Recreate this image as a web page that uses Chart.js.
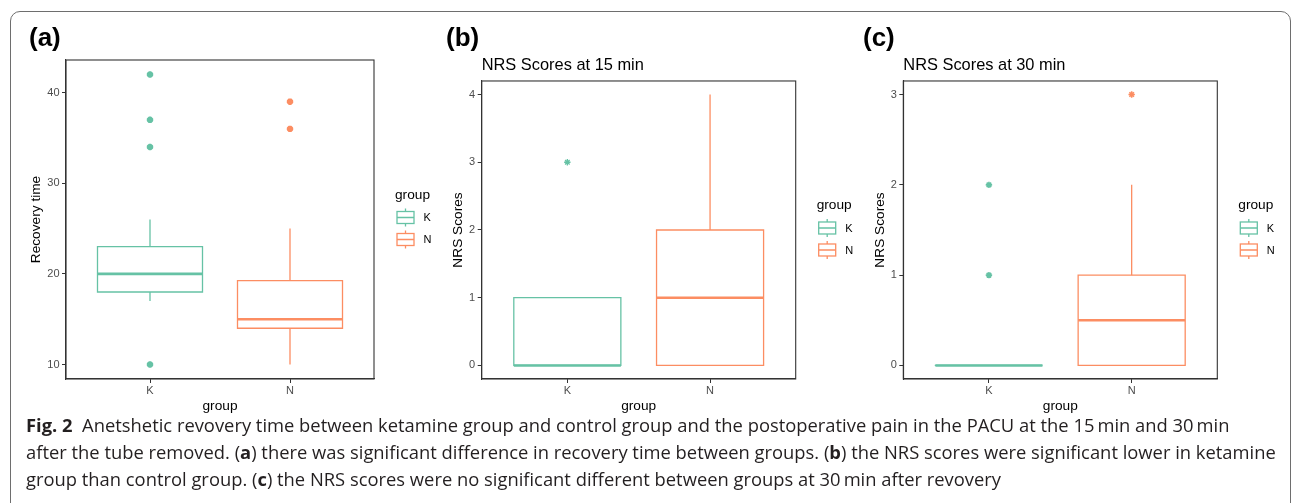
<!DOCTYPE html>
<html>
<head>
<meta charset="utf-8">
<script src="https://cdn.jsdelivr.net/npm/chart.js@4.4.1/dist/chart.umd.min.js"></script>
<style>
  html, body { margin: 0; padding: 0; background: #fff; width: 1293px; height: 503px; overflow: hidden; }
  #frame { position: absolute; left: 10px; top: 11px; width: 1281px; height: 620px; box-sizing: border-box;
           border: 1.5px solid #6e6e6e; border-radius: 10px; }
  canvas { position: absolute; top: 0; }
  .plab { position: absolute; font: bold 26px "Liberation Sans", Arial, sans-serif; line-height: 26px; color: #000; }
  #caption { position: absolute; left: 26px; top: 411px; font-family: "Open Sans", "Noto Sans", sans-serif; color: #231f20; }
  .cl { white-space: nowrap; height: 27px; line-height: 27px; }
  .cl b { font-weight: 700; }
</style>
</head>
<body>
<div id="frame"></div>
<canvas id="ca" width="440" height="418" style="left:0px"></canvas>
<canvas id="cb" width="420" height="418" style="left:440px"></canvas>
<canvas id="cc" width="433" height="418" style="left:860px"></canvas>
<div class="plab" style="left:29px;top:24px">(a)</div>
<div class="plab" style="left:446px;top:24px">(b)</div>
<div class="plab" style="left:863px;top:24px">(c)</div>
<div id="caption">
  <div class="cl"><b>Fig. 2</b>&nbsp; Anetshetic revovery time between ketamine group and control group and the postoperative pain in the PACU at the 15&#8201;min and 30&#8201;min</div>
  <div class="cl">after the tube removed. (<b>a</b>) there was significant difference in recovery time between groups. (<b>b</b>) the NRS scores were significant lower in ketamine</div>
  <div class="cl">group than control group. (<b>c</b>) the NRS scores were no significant different between groups at 30&#8201;min after revovery</div>
</div>
<script>
// ---------------- data ----------------
const groups = ['K', 'N'];

// (a) Recovery time
const recQ1 = [18, 14];
const recMedian = [20, 15];
const recQ3 = [23, 19.25];
const recWhiskerLow = [17, 10];
const recWhiskerHigh = [26, 25];
const recOutliersK = [42, 37, 34, 10];
const recOutliersN = [39, 36];
const recTicks = [10, 20, 30, 40];

// (b) NRS Scores at 15 min
const nrs15Q1 = [0, 0];
const nrs15Median = [0, 1];
const nrs15Q3 = [1, 2];
const nrs15WhiskerLow = [0, 0];
const nrs15WhiskerHigh = [1, 4];
const nrs15OutliersK = [3];
const nrs15OutliersN = [];
const nrs15Ticks = [0, 1, 2, 3, 4];

// (c) NRS Scores at 30 min
const nrs30Q1 = [0, 0];
const nrs30Median = [0, 0.5];
const nrs30Q3 = [0, 1];
const nrs30WhiskerLow = [0, 0];
const nrs30WhiskerHigh = [0, 2];
const nrs30OutliersK = [1, 2];
const nrs30OutliersN = [3];
const nrs30Ticks = [0, 1, 2, 3];

const groupColors = ['#66C2A5', '#FC8D62'];

// ---------------- helpers ----------------
const FONT = '"Liberation Sans", Arial, sans-serif';
const HALF = 0.375;

function boxDatasets(s, outlierWidth) {
  const ds = [];
  groups.forEach((g, i) => {
    const x = i + 1, c = groupColors[i];
    const line = { showLine: true, pointRadius: 0, borderColor: c, borderWidth: 1.3, fill: false, borderCapStyle: 'butt', borderJoinStyle: 'miter' };
    ds.push(Object.assign({ label: g + ' upper whisker', data: [{ x, y: s.q3[i] }, { x, y: s.hi[i] }] }, line));
    ds.push(Object.assign({ label: g + ' lower whisker', data: [{ x, y: s.q1[i] }, { x, y: s.lo[i] }] }, line));
    ds.push(Object.assign({ label: g + ' box', data: [
      { x: x - HALF, y: s.q1[i] }, { x: x + HALF, y: s.q1[i] }, { x: x + HALF, y: s.q3[i] },
      { x: x - HALF, y: s.q3[i] }, { x: x - HALF, y: s.q1[i] }] }, line, { borderCapStyle: 'square' }));
    ds.push(Object.assign({ label: g + ' median', data: [{ x: x - HALF, y: s.med[i] }, { x: x + HALF, y: s.med[i] }] }, line, { borderWidth: 2.6 }));
    ds.push({ label: g + ' outliers', data: s.out[i].map(v => ({ x, y: v })), showLine: false,
      pointStyle: 'star', pointRadius: 3.2, pointBorderWidth: outlierWidth, pointBorderColor: c, pointBackgroundColor: c });
  });
  return ds;
}

function yRange(s) {
  const all = [].concat(s.lo, s.hi, s.out[0], s.out[1]);
  const mn = Math.min(...all), mx = Math.max(...all), e = (mx - mn) * 0.05;
  return [mn - e, mx + e];
}

const frameBorder = {
  id: 'frameBorder',
  afterDraw(chart) {
    const { ctx, chartArea: a } = chart;
    ctx.save();
    ctx.strokeStyle = '#333333';
    ctx.lineWidth = 1.1;
    ctx.strokeRect(a.left, a.top, a.right - a.left, a.bottom - a.top);
    ctx.restore();
  }
};

const ggLegend = {
  id: 'ggLegend',
  afterDraw(chart) {
    const { ctx, chartArea: a } = chart;
    const R = a.right, C = (a.top + a.bottom) / 2;
    ctx.save();
    ctx.textBaseline = 'middle';
    ctx.textAlign = 'left';
    ctx.fillStyle = '#000';
    ctx.font = '13.7px ' + FONT;
    ctx.fillText('group', R + 21, C - 24.5);
    ctx.font = '11px ' + FONT;
    groups.forEach((g, i) => {
      const cy = C - 2 + i * 22, x0 = R + 23, w = 17;
      ctx.strokeStyle = groupColors[i];
      ctx.lineWidth = 1.3;
      ctx.strokeRect(x0, cy - 6, w, 12);
      ctx.beginPath();
      ctx.moveTo(x0, cy); ctx.lineTo(x0 + w, cy);
      ctx.moveTo(x0 + w / 2, cy - 6); ctx.lineTo(x0 + w / 2, cy - 9);
      ctx.moveTo(x0 + w / 2, cy + 6); ctx.lineTo(x0 + w / 2, cy + 9);
      ctx.stroke();
      ctx.fillStyle = '#000';
      ctx.fillText(g, R + 49.5, cy + 0.5);
    });
    ctx.restore();
  }
};

function makeChart(id, s, cfg) {
  const [ymin, ymax] = yRange(s);
  return new Chart(document.getElementById(id), {
    type: 'scatter',
    data: { datasets: boxDatasets(s, cfg.outlierWidth) },
    plugins: [frameBorder, ggLegend],
    options: {
      responsive: false, animation: false, devicePixelRatio: 1,
      layout: { padding: { left: cfg.padLeft, top: cfg.padTop, right: cfg.padRight, bottom: 0 } },
      plugins: {
        legend: { display: false },
        tooltip: { enabled: false },
        title: {
          display: !!cfg.title, text: cfg.title || '', align: 'start', fullSize: false, color: '#000',
          font: { family: FONT, size: 16.4, weight: 'normal', lineHeight: 1.2 },
          padding: { top: 0, bottom: cfg.titleGap || 0 }
        }
      },
      scales: {
        x: {
          type: 'linear', min: 0.4, max: 2.6, offset: false,
          afterBuildTicks: sc => { sc.ticks = groups.map((g, i) => ({ value: i + 1 })); },
          afterFit: sc => { sc.height = cfg.xHeight; },
          ticks: { callback: v => groups[v - 1], color: '#4D4D4D', font: { family: FONT, size: 11 }, padding: 1, maxRotation: 0, autoSkip: false },
          grid: { drawOnChartArea: false, drawTicks: true, tickLength: 4, color: '#333333', lineWidth: 1 },
          border: { display: true, color: '#333333', width: 1.1 },
          title: { display: true, text: 'group', color: '#000', font: { family: FONT, size: 13.7 }, padding: { top: 0, bottom: 4 } }
        },
        y: {
          type: 'linear', min: ymin, max: ymax,
          afterBuildTicks: sc => { sc.ticks = cfg.ticks.map(v => ({ value: v })); },
          afterFit: sc => { sc.width = cfg.yWidth; },
          ticks: { color: '#4D4D4D', font: { family: FONT, size: 11 }, padding: 2.5 },
          grid: { drawOnChartArea: false, drawTicks: true, tickLength: 4, color: '#333333', lineWidth: 1 },
          border: { display: true, color: '#333333', width: 1.1 },
          title: { display: true, text: cfg.yTitle, color: '#000', font: { family: FONT, size: 13.7 }, padding: { top: 0, bottom: 0 } }
        }
      }
    }
  });
}

makeChart('ca', { q1: recQ1, med: recMedian, q3: recQ3, lo: recWhiskerLow, hi: recWhiskerHigh, out: [recOutliersK, recOutliersN] },
  { ticks: recTicks, yTitle: 'Recovery time', padLeft: 28, yWidth: 38, padTop: 60, padRight: 66, xHeight: 39, outlierWidth: 2.4 });
makeChart('cb', { q1: nrs15Q1, med: nrs15Median, q3: nrs15Q3, lo: nrs15WhiskerLow, hi: nrs15WhiskerHigh, out: [nrs15OutliersK, nrs15OutliersN] },
  { ticks: nrs15Ticks, yTitle: 'NRS Scores', title: 'NRS Scores at 15 min', titleGap: 5.8, padLeft: 10, yWidth: 31.7, padTop: 55.5, padRight: 64.3, xHeight: 39, outlierWidth: 1.3 });
makeChart('cc', { q1: nrs30Q1, med: nrs30Median, q3: nrs30Q3, lo: nrs30WhiskerLow, hi: nrs30WhiskerHigh, out: [nrs30OutliersK, nrs30OutliersN] },
  { ticks: nrs30Ticks, yTitle: 'NRS Scores', title: 'NRS Scores at 30 min', titleGap: 5.8, padLeft: 12, yWidth: 31.3, padTop: 55.5, padRight: 75.7, xHeight: 39, outlierWidth: 1.6 });

// fit caption font size so that the second line spans the same width as in the figure
(function fitCaption() {
  const lines = document.querySelectorAll('.cl');
  const target = 1250;
  lines.forEach(l => l.style.fontSize = '16px');
  const r = document.createRange();
  r.selectNodeContents(lines[1]);
  const w = r.getBoundingClientRect().width;
  const size = 16 * target / w;
  lines.forEach(l => l.style.fontSize = size.toFixed(2) + 'px');
})();
</script>
</body>
</html>
